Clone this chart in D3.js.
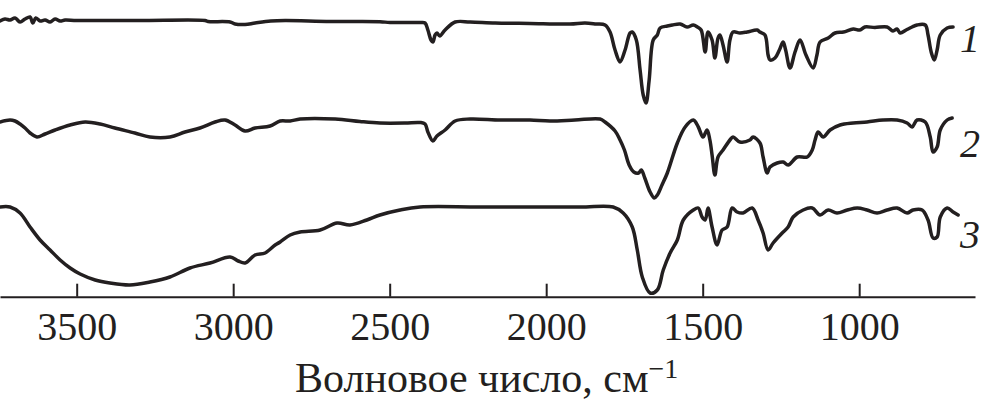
<!DOCTYPE html>
<html><head><meta charset="utf-8">
<script src="https://cdn.jsdelivr.net/npm/d3@7/dist/d3.min.js"></script>
<style>
html,body{margin:0;padding:0;background:#fff;}
svg{display:block;}
</style>
</head><body>
<svg id="chart" width="982" height="402"></svg>
<script>
// ---- data: wavenumber (cm^-1) and transmittance (arb. units, curves offset) ----
const tickValues = [3500, 3000, 2500, 2000, 1500, 1000];
const seriesLabels = ["1", "2", "3"];
const axisTitle = "Волновое число, см";
const axisTitleSup = "−1";

const spectrum1 = [
[3745,279],[3729,281],[3713,280],[3697,282],[3681,278],[3665,281],[3649,283],[3640,277],[3631,282],[3617,279],
[3601,280],[3585,278],[3569,281],[3553,279],[3537,280],[3500,279.5],[3300,279.5],[3090,279.5],[3080,278.5],[3010,278],
[2994,276],[2962,275.5],[2930,277],[2880,279],[2834,279.5],[2690,278.5],[2531,278.3],[2499,277.5],[2403,277.5],[2387,277],
[2378,270],[2368,260],[2362,258],[2355,265],[2349,267],[2340,264],[2323,270],[2291,278],[2243,278],[2163,277],
[2052,276.5],[1924,276],[1876,277],[1840,276],[1812,275],[1796,268],[1780,250],[1764,238],[1748,250],[1732,267],
[1725,268],[1712,260],[1700,230],[1690,205],[1681,197],[1671,220],[1658,260],[1645,265],[1636,272],[1613,274],
[1597,275],[1572,276],[1550,273],[1530,275],[1517,273],[1505,270],[1492,248],[1483,268],[1470,260],[1461,242],
[1451,262],[1445,265],[1435,255],[1422,238],[1413,260],[1403,268],[1381,267],[1358,268],[1326,270],[1317,268],
[1301,265],[1291,245],[1285,240],[1269,242],[1255,250],[1243,258],[1235,250],[1221,232],[1205,248],[1189,260],
[1170,245],[1147,232],[1135,245],[1125,258],[1099,262],[1077,267],[1050,268],[1019,271],[998,270],[982,273],
[950,272.5],[911,273],[892,269],[879,271],[869,267],[850,270],[831,273],[815,275],[789,275],[780,265],
[770,248],[760,240],[751,250],[741,265],[719,272],[700,273]
];

const spectrum2 = [
[3745,178],[3713,180],[3697,179],[3681,176],[3665,172],[3649,167],[3627,163],[3601,166],[3569,170],[3521,175],
[3473,178],[3425,176],[3378,172],[3314,167],[3266,163],[3202,163],[3154,168],[3106,172],[3058,178],[3026,180],
[2994,175],[2962,169],[2930,172],[2882,174],[2850,179],[2818,179],[2786,181],[2674,181],[2595,178.5],[2531,177],
[2451,177],[2403,177.5],[2387,176],[2378,168],[2362,159],[2349,164],[2323,170],[2291,179],[2243,181],[2147,180],
[2052,180],[1988,179],[1908,180],[1828,181],[1812,178],[1780,169],[1764,160],[1750,150],[1735,135],[1720,128],
[1705,127],[1696,130],[1685,122],[1668,108],[1655,102],[1645,105],[1630,115],[1613,127],[1581,157],[1556,173],
[1530,180],[1514,173],[1499,163],[1486,170],[1477,160],[1470,145],[1461,125],[1451,143],[1435,150],[1413,160],
[1403,163],[1381,158],[1349,160],[1339,163],[1317,157],[1307,143],[1294,127],[1285,133],[1262,137],[1243,138],
[1227,135],[1198,143],[1166,143],[1150,150],[1141,160],[1131,168],[1115,163],[1093,170],[1061,175],[1019,177],
[975,178],[924,180],[879,180],[847,177],[831,173],[815,180],[789,178],[773,163],[764,148],[751,153],
[741,170],[719,180],[703,182]
];

const spectrum3 = [
[3745,93],[3713,93],[3681,87],[3649,73],[3617,60],[3585,50],[3553,40],[3521,32],[3489,26],[3441,20],
[3394,17],[3330,15],[3266,18],[3202,23],[3138,32],[3074,37],[3010,43],[2984,39],[2962,37],[2930,45],
[2898,47],[2866,55],[2850,58],[2818,65],[2786,68],[2722,70],[2668,77],[2627,75],[2573,80],[2531,85],
[2467,90],[2403,93],[2211,93],[1892,93],[1786,93],[1754,87],[1725,73],[1709,50],[1693,23],[1668,7],
[1645,10],[1626,30],[1604,47],[1581,60],[1562,80],[1530,90],[1514,92],[1502,83],[1492,80],[1483,92],
[1470,73],[1454,55],[1438,70],[1422,73],[1406,92],[1390,88],[1371,87],[1342,92],[1323,80],[1307,67],
[1291,50],[1275,57],[1246,67],[1227,73],[1211,83],[1179,90],[1150,92],[1125,85],[1099,90],[1071,87],
[1038,90],[1006,92],[975,90],[943,87],[911,90],[879,92],[847,87],[828,90],[799,90],[780,80],
[764,62],[751,63],[741,83],[719,92],[700,88],[684,85]
];

const spectra = [spectrum1, spectrum2, spectrum3];

// ---- drawing ----
const ink = "#231f20";
const serif = "'Liberation Serif', 'Times New Roman', serif";
const svg = d3.select("#chart");
const axisY = 296.7;

const x = d3.scaleLinear().domain([3745, 630]).range([0, 975]);
const y = d3.scaleLinear().domain([0, 300]).range([300, 0]);

const line = d3.line().x(d => x(d[0])).y(d => y(d[1])).curve(d3.curveCatmullRom.alpha(0.5));

svg.append("g").selectAll("path")
  .data(spectra)
  .join("path")
  .attr("d", line)
  .attr("fill", "none")
  .attr("stroke", ink)
  .attr("stroke-width", 3.5)
  .attr("stroke-linejoin", "round")
  .attr("stroke-linecap", "round");

const axis = d3.axisBottom(x).tickValues(tickValues).tickSizeInner(-13).tickSizeOuter(0).tickFormat(d3.format("d"));
const gAxis = svg.append("g").attr("transform", `translate(0,${axisY})`).call(axis);
gAxis.select(".domain").attr("stroke", ink).attr("stroke-width", 2);
gAxis.selectAll(".tick line").attr("stroke", ink).attr("stroke-width", 2);
gAxis.selectAll(".tick text")
  .attr("y", 43).attr("dy", 0)
  .attr("fill", ink)
  .style("font-family", serif)
  .style("font-size", "40px");

const title = svg.append("text")
  .attr("x", 295).attr("y", 392)
  .attr("fill", ink)
  .style("font-family", serif)
  .style("font-size", "42px");
title.append("tspan").text(axisTitle);
title.append("tspan").attr("dy", -14).style("font-size", "28px").text(axisTitleSup);

const labelPos = [[960, 52], [960, 157], [960, 248]];
svg.append("g").selectAll("text")
  .data(seriesLabels)
  .join("text")
  .attr("x", (d, i) => labelPos[i][0])
  .attr("y", (d, i) => labelPos[i][1])
  .attr("fill", ink)
  .style("font-family", serif)
  .style("font-style", "italic")
  .style("font-size", "40px")
  .text(d => d);
</script>
</body></html>
